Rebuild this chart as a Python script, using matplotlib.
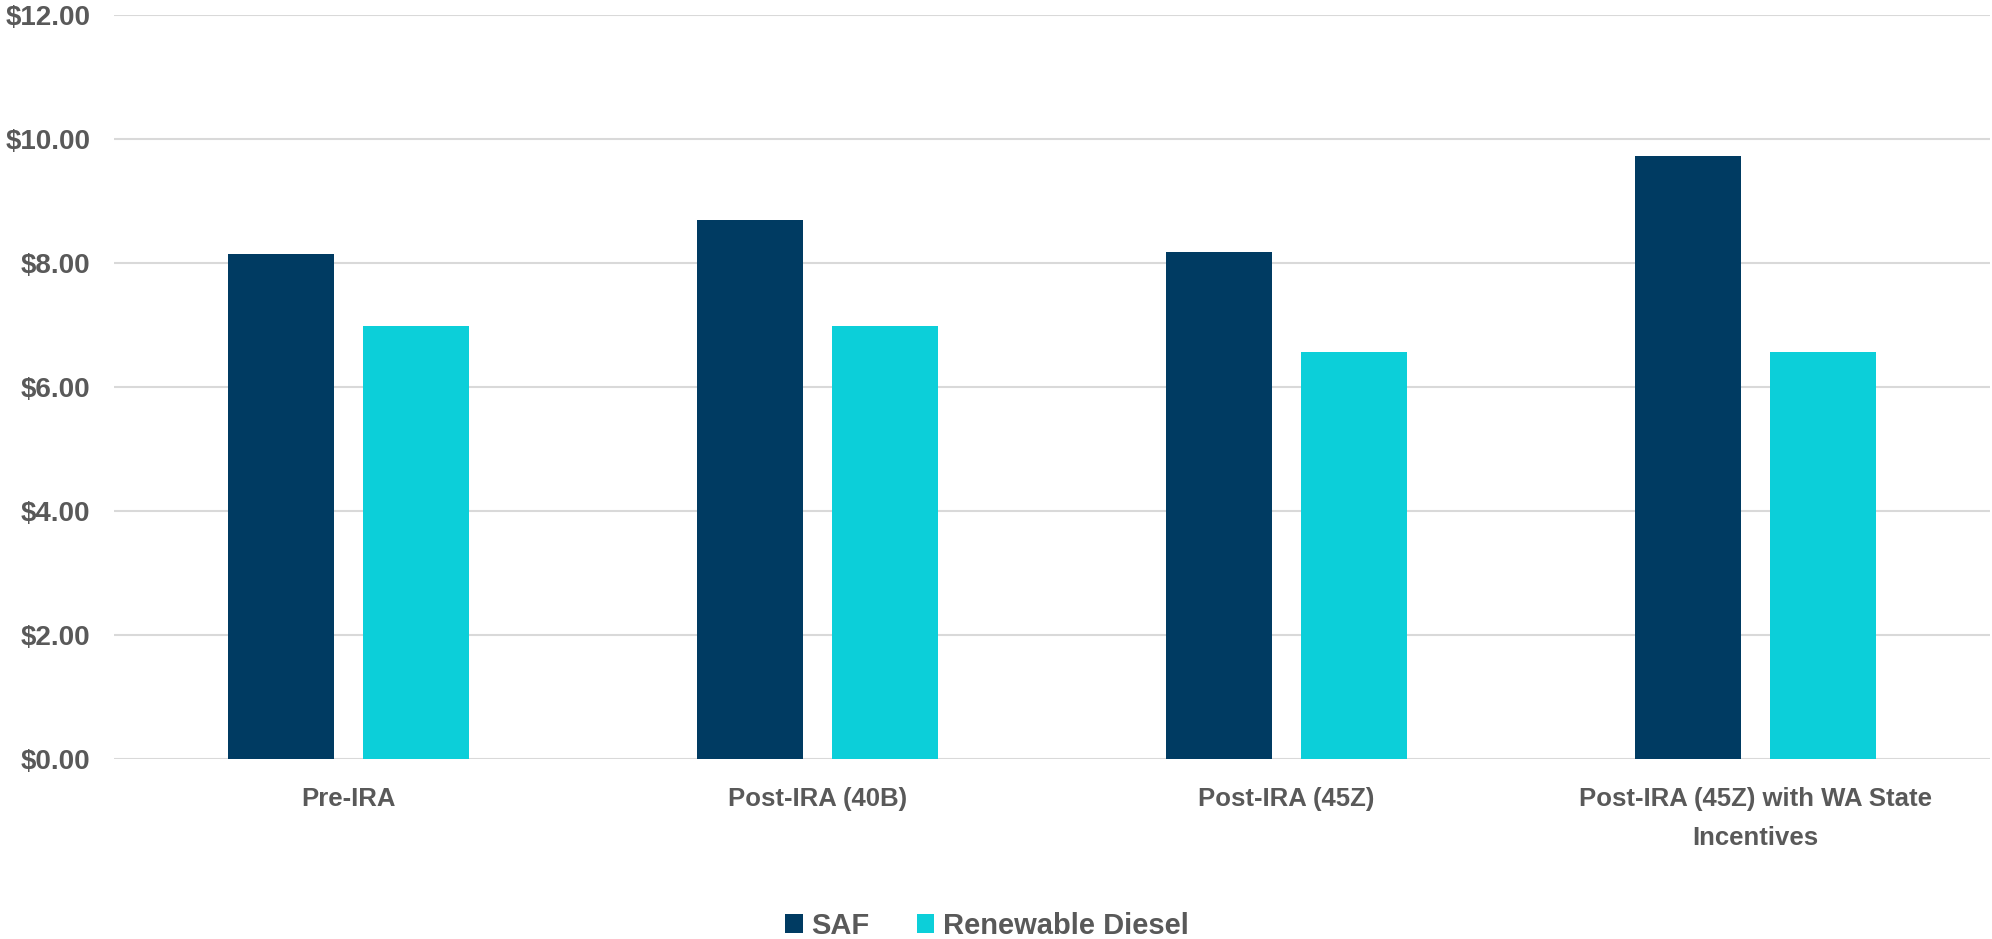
import numpy as np
import matplotlib.pyplot as plt

# data
categories = ['Pre-IRA', 'Post-IRA (40B)', 'Post-IRA (45Z)', 'Post-IRA (45Z) with WA State\nIncentives']
saf = [8.14, 8.69, 8.17, 9.73]
renewable_diesel = [6.98, 6.98, 6.56, 6.56]
y_ticks = [0, 2, 4, 6, 8, 10, 12]

saf_color = '#003B62'
rd_color = '#0CCFD9'
text_color = '#595959'

plt.rcParams['font.family'] = ['Liberation Sans', 'DejaVu Sans']
plt.rcParams['font.weight'] = 'bold'

fig = plt.figure(figsize=(19.92, 9.39), dpi=100)
ax = fig.add_axes([0.0572, 0.1917, 0.9418, 0.7923])

x = np.arange(len(categories))
width = 0.226
offset = 0.143
ax.bar(x - offset, saf, width, color=saf_color, label='SAF', zorder=3)
ax.bar(x + offset, renewable_diesel, width, color=rd_color, label='Renewable Diesel', zorder=3)

ax.set_xlim(-0.5, len(categories) - 0.5)
ax.set_ylim(0, 12)
ax.set_yticks(y_ticks)
ax.set_yticklabels([f'${v:.2f}' for v in y_ticks], fontsize=20, color=text_color, fontweight='bold')
ax.set_xticks(x)
ax.set_xticklabels(categories, fontsize=18.5, color=text_color, fontweight='bold', linespacing=1.8)
ax.tick_params(axis='y', length=0, pad=17)
ax.tick_params(axis='x', length=0, pad=20)

ax.grid(axis='y', color='#D9D9D9', linewidth=1.5, zorder=0)
ax.set_axisbelow(True)
for side in ['top', 'right', 'left', 'bottom']:
    ax.spines[side].set_visible(False)

fig.legend(loc='center', bbox_to_anchor=(0.4955, 0.014), ncol=2, frameon=False,
           prop={'size': 21, 'weight': 'bold'}, labelcolor=text_color,
           handlelength=0.6, handleheight=0.6, handletextpad=0.3, columnspacing=1.6)

fig.savefig('out.png', dpi=100)
